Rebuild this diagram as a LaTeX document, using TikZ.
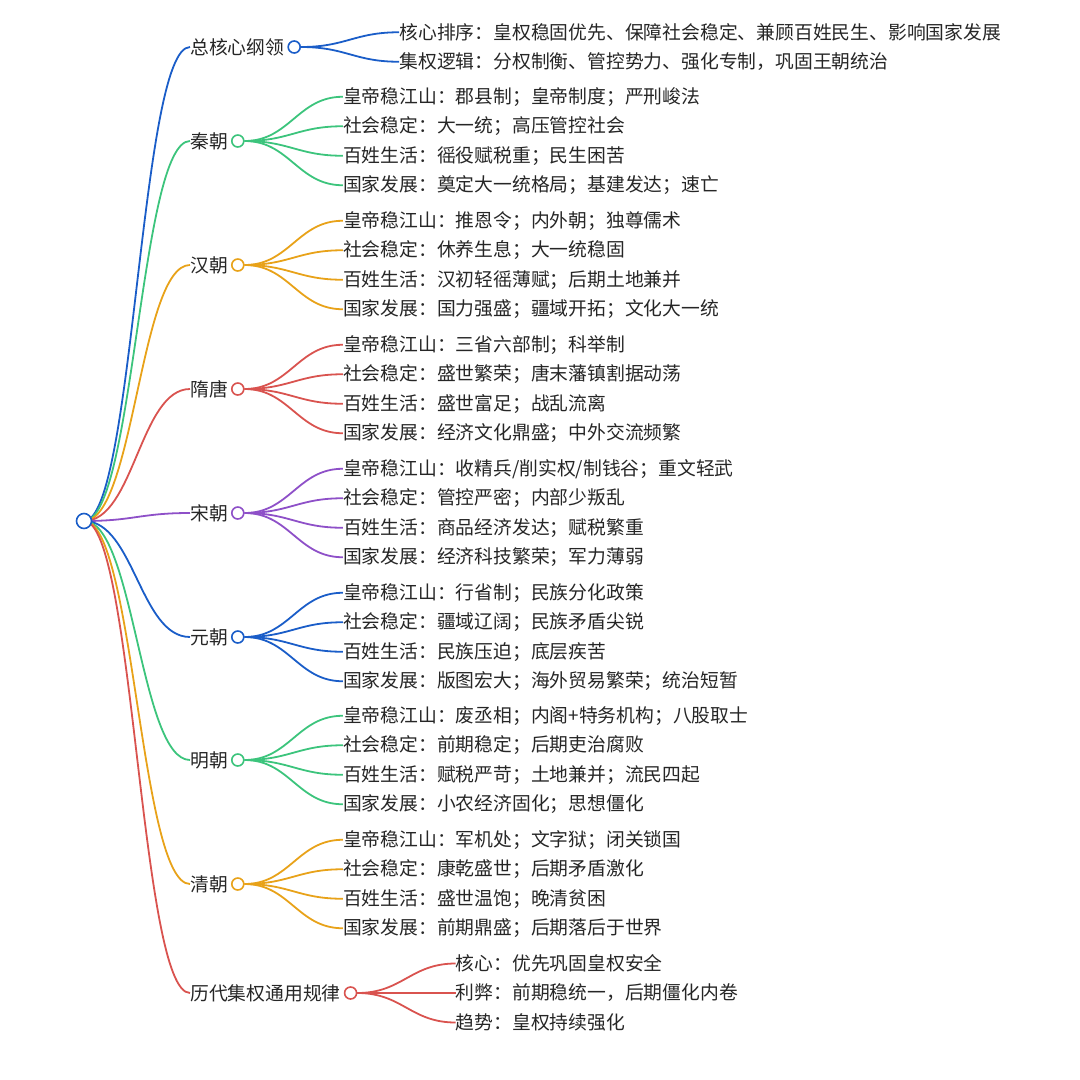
\documentclass[tikz,border=0pt]{standalone}
\usepackage{fontspec}
\setmainfont{Noto Sans CJK SC}
\usetikzlibrary{positioning,backgrounds,calc}
\definecolor{mmblue}{HTML}{1A5DC8}
\definecolor{mmgreen}{HTML}{3CC47C}
\definecolor{mmorange}{HTML}{E8A219}
\definecolor{mmred}{HTML}{D9534F}
\definecolor{mmpurple}{HTML}{8E50C8}
\tikzset{
  txt/.style={font=\fontsize{18.8}{22}\selectfont, text=black!85, inner sep=0pt, anchor=west},
  dot/.style={circle, draw=#1, fill=white, line width=1.6pt, minimum size=12pt, inner sep=0pt},
  link/.style={draw=#1, line width=1.8pt},
}
% id, colour, y, label, number of leaves, leaves
\newcommand\mmbranch[6]{%
  \node[txt] (lab#1) at (190,#3) {#4};
  \node[dot=#2, right=3pt of lab#1] (c#1) {};
  \begin{scope}[on background layer]
    \draw[link=#2] (root.center) .. controls +(50,0) and +(-50,0) .. (lab#1.west);
  \end{scope}
  \foreach \t [count=\i] in {#6} {
    \pgfmathsetmacro\yy{-(#3+(\i-(#5+1)/2)*29.5)}
    \path let \p1=(c#1.center) in node[txt] (l#1-\i) at (\x1+105pt,\yy pt) {\t};
    \begin{scope}[on background layer]
      \draw[link=#2] (c#1.east) .. controls +(45,0) and +(-45,0) .. (l#1-\i.west);
    \end{scope}
  }
}
\begin{document}
\begin{tikzpicture}[x=1pt,y=-1pt]
\useasboundingbox (0,0) rectangle (1080,1080);
\node[dot=mmblue, minimum size=15pt] (root) at (84,521) {};

\mmbranch{1}{mmblue}{47}{总核心纲领}{2}{核心排序：皇权稳固优先、保障社会稳定、兼顾百姓民生、影响国家发展, 集权逻辑：分权制衡、管控势力、强化专制，巩固王朝统治}
\mmbranch{2}{mmgreen}{141}{秦朝}{4}{皇帝稳江山：郡县制；皇帝制度；严刑峻法, 社会稳定：大一统；高压管控社会, 百姓生活：徭役赋税重；民生困苦, 国家发展：奠定大一统格局；基建发达；速亡}
\mmbranch{3}{mmorange}{265}{汉朝}{4}{皇帝稳江山：推恩令；内外朝；独尊儒术, 社会稳定：休养生息；大一统稳固, 百姓生活：汉初轻徭薄赋；后期土地兼并, 国家发展：国力强盛；疆域开拓；文化大一统}
\mmbranch{4}{mmred}{389}{隋唐}{4}{皇帝稳江山：三省六部制；科举制, 社会稳定：盛世繁荣；唐末藩镇割据动荡, 百姓生活：盛世富足；战乱流离, 国家发展：经济文化鼎盛；中外交流频繁}
\mmbranch{5}{mmpurple}{513}{宋朝}{4}{皇帝稳江山：收精兵/削实权/制钱谷；重文轻武, 社会稳定：管控严密；内部少叛乱, 百姓生活：商品经济发达；赋税繁重, 国家发展：经济科技繁荣；军力薄弱}
\mmbranch{6}{mmblue}{637}{元朝}{4}{皇帝稳江山：行省制；民族分化政策, 社会稳定：疆域辽阔；民族矛盾尖锐, 百姓生活：民族压迫；底层疾苦, 国家发展：版图宏大；海外贸易繁荣；统治短暂}
\mmbranch{7}{mmgreen}{760}{明朝}{4}{皇帝稳江山：废丞相；内阁+特务机构；八股取士, 社会稳定：前期稳定；后期吏治腐败, 百姓生活：赋税严苛；土地兼并；流民四起, 国家发展：小农经济固化；思想僵化}
\mmbranch{8}{mmorange}{884}{清朝}{4}{皇帝稳江山：军机处；文字狱；闭关锁国, 社会稳定：康乾盛世；后期矛盾激化, 百姓生活：盛世温饱；晚清贫困, 国家发展：前期鼎盛；后期落后于世界}
\mmbranch{9}{mmred}{993}{历代集权通用规律}{3}{核心：优先巩固皇权安全, 利弊：前期稳统一，后期僵化内卷, 趋势：皇权持续强化}
\end{tikzpicture}
\end{document}
